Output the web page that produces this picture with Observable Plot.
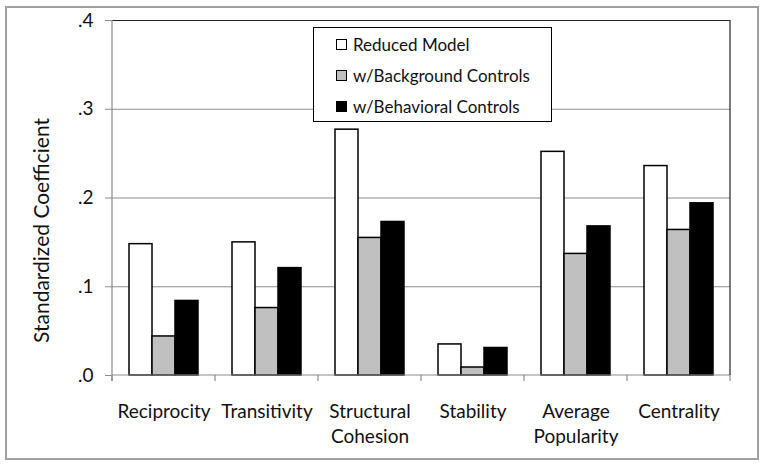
<!DOCTYPE html>
<html>
<head>
<meta charset="utf-8">
<script src="https://cdn.jsdelivr.net/npm/d3@7"></script>
<script src="https://cdn.jsdelivr.net/npm/@observablehq/plot@0.6"></script>
<style>
  html, body { margin: 0; padding: 0; background: #fff; }
  #wrap { position: relative; width: 764px; height: 466px; overflow: hidden; }
  #border { position: absolute; left: 5px; top: 6px; width: 750px; height: 450px; border: 2px solid #a0a0a0; pointer-events: none; }
  #legend { position: absolute; left: 313px; top: 27px; width: 237px; height: 93px; border: 1.5px solid #000; background: #fff; font-family: Lato, sans-serif; font-size: 17px; color: #111; }
  .row { position: absolute; left: 22px; height: 20px; display: flex; align-items: center; white-space: nowrap; }
  .sw { width: 11px; height: 11px; border: 1px solid #000; box-sizing: border-box; margin-right: 6px; }
</style>
</head>
<body>
<div id="wrap">
  <div id="chart"></div>
  <div id="border"></div>
  <div id="legend"></div>
</div>
<script>
const categories = ["Reciprocity", "Transitivity", "Structural\nCohesion", "Stability", "Average\nPopularity", "Centrality"];
const series = ["Reduced Model", "w/Background Controls", "w/Behavioral Controls"];
const reduced = [0.148, 0.150, 0.277, 0.035, 0.252, 0.236];
const background = [0.044, 0.076, 0.155, 0.009, 0.137, 0.164];
const behavioral = [0.084, 0.121, 0.173, 0.031, 0.168, 0.194];
const yTicks = [0, 0.1, 0.2, 0.3, 0.4];
const fills = ["#ffffff", "#c0c0c0", "#000000"];
const yLabel = "Standardized Coefficient";

const valuesBySeries = [reduced, background, behavioral];
const data = categories.flatMap((c, i) => series.map((s, j) => ({cat: c, series: s, value: valuesBySeries[j][i]})));
const fmt = d => d3.format(".1f")(d).replace(/^0/, "");

const plot = Plot.plot({
  width: 764,
  height: 466,
  marginLeft: 110,
  marginRight: 32,
  marginTop: 20,
  marginBottom: 91,
  style: {fontFamily: "Lato, sans-serif", fontSize: "19px", color: "#111", background: "transparent"},
  fx: {domain: categories, padding: 0, label: null},
  x: {domain: series, paddingInner: 0, paddingOuter: 0.725, axis: null},
  y: {domain: [0, 0.4], label: null},
  color: {domain: series, range: fills},
  marks: [
    Plot.ruleY(yTicks.filter(d => d > 0 && d < 0.4), {stroke: "#8c8c8c", strokeWidth: 1.2}),
    Plot.ruleY([0.4], {stroke: "#222", strokeWidth: 1.2}),
    Plot.barY(data, {fx: "cat", x: "series", y: "value", fill: "series", stroke: "#000", strokeWidth: 1.5, inset: 0}),
    Plot.axisY({ticks: yTicks, tickFormat: fmt, tickSize: 7, tickPadding: 12, stroke: "#8c8c8c", label: null}),
    Plot.axisFx({anchor: "bottom", tickSize: 0, tickPadding: 24, lineHeight: 1.35, label: null})
  ]
});
document.getElementById("chart").appendChild(plot);

// extra axis decorations using the plot's own scales
const fx = plot.scale("fx");
const y = plot.scale("y");
const svg = d3.select(plot);
const g = svg.append("g");
const x0 = fx.apply(categories[0]);
const xEnd = fx.apply(categories[categories.length - 1]) + fx.bandwidth;
const y0 = y.apply(0), yTop = y.apply(0.4);
g.append("line").attr("x1", x0).attr("x2", xEnd).attr("y1", y0).attr("y2", y0).attr("stroke", "#8c8c8c").attr("stroke-width", 1.2);
g.append("line").attr("x1", x0).attr("x2", x0).attr("y1", yTop).attr("y2", y0 + 6).attr("stroke", "#8c8c8c").attr("stroke-width", 1.2);
g.append("line").attr("x1", xEnd).attr("x2", xEnd).attr("y1", yTop).attr("y2", y0).attr("stroke", "#222").attr("stroke-width", 1.2);
const bounds = categories.map(c => fx.apply(c)).concat([xEnd]);
g.selectAll("line.bt").data(bounds).join("line").attr("class", "bt")
  .attr("x1", d => d).attr("x2", d => d).attr("y1", y0).attr("y2", y0 + 6)
  .attr("stroke", "#8c8c8c").attr("stroke-width", 1.2);
g.append("text").text(yLabel)
  .attr("transform", `translate(40,${(yTop + y0) / 2 + 33}) rotate(-90)`)
  .attr("text-anchor", "middle").attr("dominant-baseline", "central")
  .attr("font-family", "Lato, sans-serif").attr("font-size", 21).attr("fill", "#111");

// legend
const legend = d3.select("#legend");
series.forEach((s, j) => {
  const row = legend.append("div").attr("class", "row").style("top", (6 + j * 31) + "px");
  row.append("div").attr("class", "sw").style("background", fills[j]);
  row.append("span").text(s);
});
</script>
</body>
</html>
